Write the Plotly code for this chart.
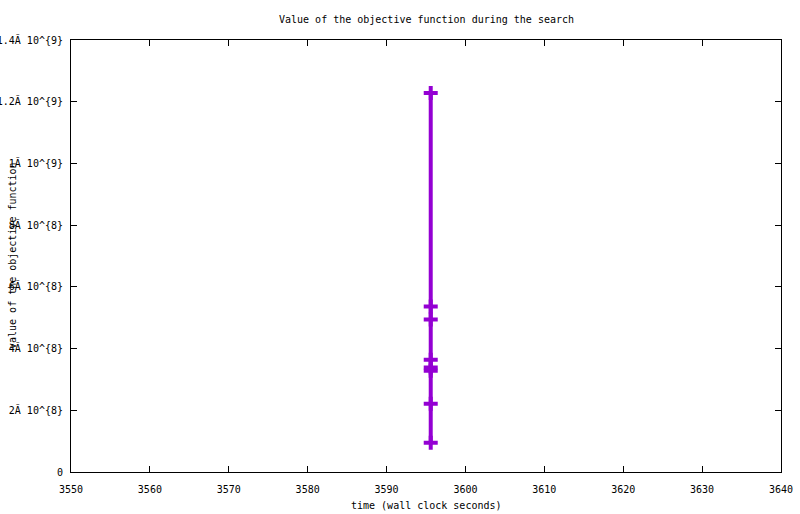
import plotly.graph_objects as go

# data
times = [3595.6, 3595.6, 3595.6, 3595.6, 3595.6, 3595.6, 3595.6, 3595.6]
objective = [1.228e9, 5.36e8, 4.94e8, 3.64e8, 3.39e8, 3.28e8, 2.21e8, 9.5e7]

y_tick_vals = [0, 2e8, 4e8, 6e8, 8e8, 1e9, 1.2e9, 1.4e9]
y_tick_text = ["0", "2Ă 10^{8}", "4Ă 10^{8}", "6Ă 10^{8}", "8Ă 10^{8}",
               "1Ă 10^{9}", "1.2Ă 10^{9}", "1.4Ă 10^{9}"]
x_tick_vals = [3550, 3560, 3570, 3580, 3590, 3600, 3610, 3620, 3630, 3640]

FONT = dict(family="DejaVu Sans Mono, Liberation Mono, monospace", size=10, color="black")
COLOR = "#9400D3"

fig = go.Figure()
fig.add_trace(go.Scatter(
    x=times, y=objective, mode="lines+markers",
    line=dict(color=COLOR, width=4),
    marker=dict(symbol="cross-thin", size=10, color=COLOR,
                line=dict(color=COLOR, width=4)),
    showlegend=False, hoverinfo="x+y",
))

axis_common = dict(showgrid=False, zeroline=False, showline=True, linecolor="black",
                   linewidth=1, mirror="ticks", ticks="inside", ticklen=6,
                   tickcolor="black", tickfont=FONT, automargin=False)

fig.update_xaxes(range=[3550, 3640], tickvals=x_tick_vals,
                 ticktext=[str(v) for v in x_tick_vals], ticklabelstandoff=8,
                 **axis_common)
fig.update_yaxes(range=[0, 1.4e9], tickvals=y_tick_vals, ticktext=y_tick_text,
                 ticklabelstandoff=5, **axis_common)

fig.update_layout(
    width=800, height=514,
    margin=dict(l=71, r=19, t=40, b=42, autoexpand=False),
    paper_bgcolor="white", plot_bgcolor="white",
    font=FONT,
    annotations=[
        dict(text="Value of the objective function during the search",
             xref="paper", yref="paper", x=0.5, y=1, yshift=21,
             xanchor="center", yanchor="middle", showarrow=False, font=FONT),
        dict(text="time (wall clock seconds)", xref="paper", yref="paper",
             x=0.5, y=0, yshift=-33, xanchor="center", yanchor="middle",
             showarrow=False, font=FONT),
        dict(text="value of the objective function", xref="paper", yref="paper",
             x=0, xshift=-59, y=0.5, textangle=-90, xanchor="center",
             yanchor="middle", showarrow=False, font=FONT),
    ],
)

# remove the default page margin so the figure fills the window exactly
fig.write_html("out.html", config={"displayModeBar": False},
               post_script="document.body.style.margin='0';")
